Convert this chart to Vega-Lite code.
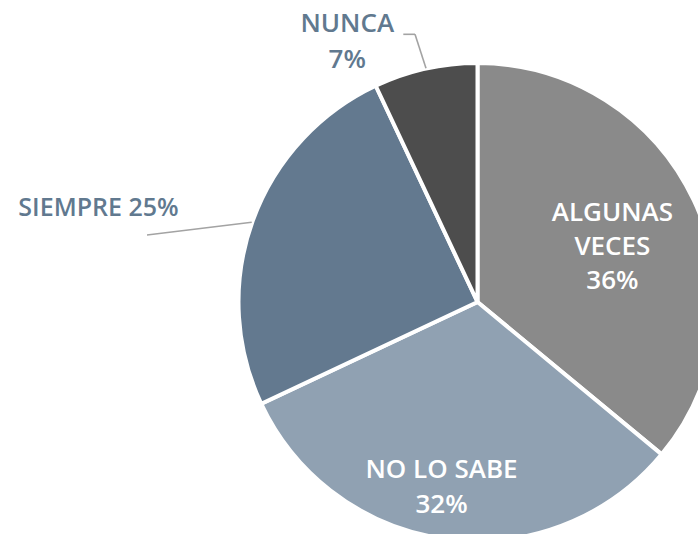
{
  "$schema": "https://vega.github.io/schema/vega-lite/v6.json",
  "width": 698,
  "height": 534,
  "autosize": {"type": "none"},
  "padding": 0,
  "background": "white",
  "config": {"view": {"stroke": null}},
  "data": {
    "values": [
      {"categoria": "ALGUNAS VECES", "pct": 36, "orden": 1},
      {"categoria": "NO LO SABE", "pct": 32, "orden": 2},
      {"categoria": "SIEMPRE", "pct": 25, "orden": 3},
      {"categoria": "NUNCA", "pct": 7, "orden": 4}
    ]
  },
  "transform": [
    {"stack": "pct", "groupby": [], "sort": [{"field": "orden", "order": "ascending"}], "as": ["inicio", "fin"]},
    {"calculate": "(datum.inicio + datum.fin) / 2", "as": "medio"}
  ],
  "encoding": {
    "x": {"datum": 0, "type": "quantitative", "scale": {"domain": [-2.01477, 0.93038], "nice": false, "zero": false}, "axis": null},
    "y": {"datum": 0, "type": "quantitative", "scale": {"domain": [-0.9789, 1.27426], "nice": false, "zero": false}, "axis": null}
  },
  "layer": [
    {
      "mark": {"type": "arc", "radius": 239, "stroke": "white", "strokeWidth": 4},
      "encoding": {
        "theta": {"field": "inicio", "type": "quantitative", "scale": {"domain": [0, 100]}},
        "theta2": {"field": "fin"},
        "color": {
          "field": "categoria", "type": "nominal", "legend": null,
          "scale": {"domain": ["ALGUNAS VECES", "NO LO SABE", "SIEMPRE", "NUNCA"], "range": ["#8a8a8a", "#90a1b2", "#63798f", "#4d4d4d"]}
        }
      }
    },
    {
      "transform": [{"filter": "datum.categoria === 'ALGUNAS VECES'"}, {"calculate": "datum.categoria + ' ' + datum.pct + '%'", "as": "etiqueta"}],
      "mark": {"type": "text", "radius": 148, "dx": 1, "dy": -26, "lineBreak": " ", "lineHeight": 34, "font": "Open Sans", "fontSize": 26, "fontWeight": 600, "fill": "white", "align": "center", "baseline": "middle"},
      "encoding": {"theta": {"field": "medio", "type": "quantitative"}, "text": {"field": "etiqueta"}}
    },
    {
      "transform": [{"filter": "datum.categoria === 'NO LO SABE'"}, {"calculate": "datum.categoria + '|' + datum.pct + '%'", "as": "etiqueta"}],
      "mark": {"type": "text", "radius": 187.5, "dx": -12.5, "dy": -18.5, "lineBreak": "|", "lineHeight": 35.5, "font": "Open Sans", "fontSize": 26, "fontWeight": 600, "fill": "white", "align": "center", "baseline": "middle"},
      "encoding": {"theta": {"field": "medio", "type": "quantitative"}, "text": {"field": "etiqueta"}}
    },
    {
      "transform": [{"filter": "datum.categoria === 'SIEMPRE'"}, {"calculate": "datum.categoria + ' ' + datum.pct + '%'", "as": "etiqueta"}],
      "mark": {"type": "text", "radius": 380, "dx": -21.5, "dy": 35, "font": "Open Sans", "fontSize": 25, "fontWeight": 600, "fill": "#61798f", "align": "center", "baseline": "middle"},
      "encoding": {"theta": {"field": "medio", "type": "quantitative"}, "text": {"field": "etiqueta"}}
    },
    {
      "transform": [{"filter": "datum.categoria === 'NUNCA'"}, {"calculate": "datum.categoria + '|' + datum.pct + '%'", "as": "etiqueta"}],
      "mark": {"type": "text", "radius": 290, "dx": -67, "dy": 5, "lineBreak": "|", "lineHeight": 36, "font": "Open Sans", "fontSize": 26, "fontWeight": 600, "fill": "#61798f", "align": "center", "baseline": "middle"},
      "encoding": {"theta": {"field": "medio", "type": "quantitative"}, "text": {"field": "etiqueta"}}
    },
    {
      "transform": [{"filter": "datum.categoria === 'SIEMPRE'"}],
      "mark": {"type": "rule", "stroke": "#a3a3a3", "strokeWidth": 1.6},
      "encoding": {
        "x": {"datum": -1.3945, "type": "quantitative"},
        "y": {"datum": 0.2827, "type": "quantitative"},
        "x2": {"datum": -0.9527},
        "y2": {"datum": 0.3363}
      }
    },
    {
      "transform": [{"filter": "datum.categoria === 'NUNCA'"}],
      "mark": {"type": "rule", "stroke": "#a3a3a3", "strokeWidth": 1.6},
      "encoding": {
        "x": {"datum": -0.3131, "type": "quantitative"},
        "y": {"datum": 1.1295, "type": "quantitative"},
        "x2": {"datum": -0.2637},
        "y2": {"datum": 1.1295}
      }
    },
    {
      "transform": [{"filter": "datum.categoria === 'NUNCA'"}],
      "mark": {"type": "rule", "stroke": "#a3a3a3", "strokeWidth": 1.6},
      "encoding": {
        "x": {"datum": -0.2637, "type": "quantitative"},
        "y": {"datum": 1.1295, "type": "quantitative"},
        "x2": {"datum": -0.2173},
        "y2": {"datum": 0.9861}
      }
    }
  ]
}
